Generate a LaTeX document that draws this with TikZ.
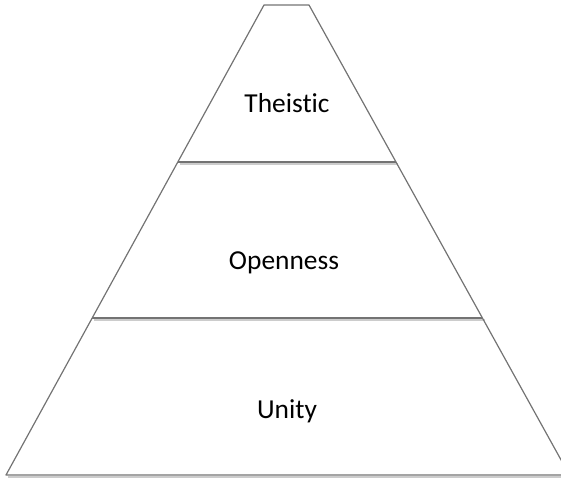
\documentclass[tikz,border=0pt]{standalone}
\usepackage{fontspec}
\setmainfont[Ligatures=NoCommon]{Carlito}
\begin{document}
\begin{tikzpicture}[x=1pt,y=-1pt,
  edge/.style={draw=black!55,line width=1.2pt,line join=round},
  shade/.style={draw=black!20,line width=2pt},
  label/.style={font=\fontsize{27.4}{30}\selectfont,text=black,anchor=base,inner sep=0pt}]
\useasboundingbox (0,0) rectangle (561,479);
\clip (0,0) rectangle (561,479);
% shadow under the bottom edge
\draw[shade] (8,476.6) -- (571,476.6);
\draw[shade] (180,163.6) -- (398,163.6);
\draw[shade] (94,319.6) -- (485,319.6);
% pyramid outline
\draw[edge] (6,475) -- (264,5) -- (309,5) -- (569.4,475) -- cycle;
% dividing lines
\draw[edge] (177.8,162) -- (396,162);
\draw[edge] (92.2,318) -- (482.4,318);
% labels
\node[label] (theistic) at (287,112) {Theistic};
\node[label] (openness) at (284,269) {Openness};
\node[label] (unity) at (287,418) {Unity};
\end{tikzpicture}
\end{document}
